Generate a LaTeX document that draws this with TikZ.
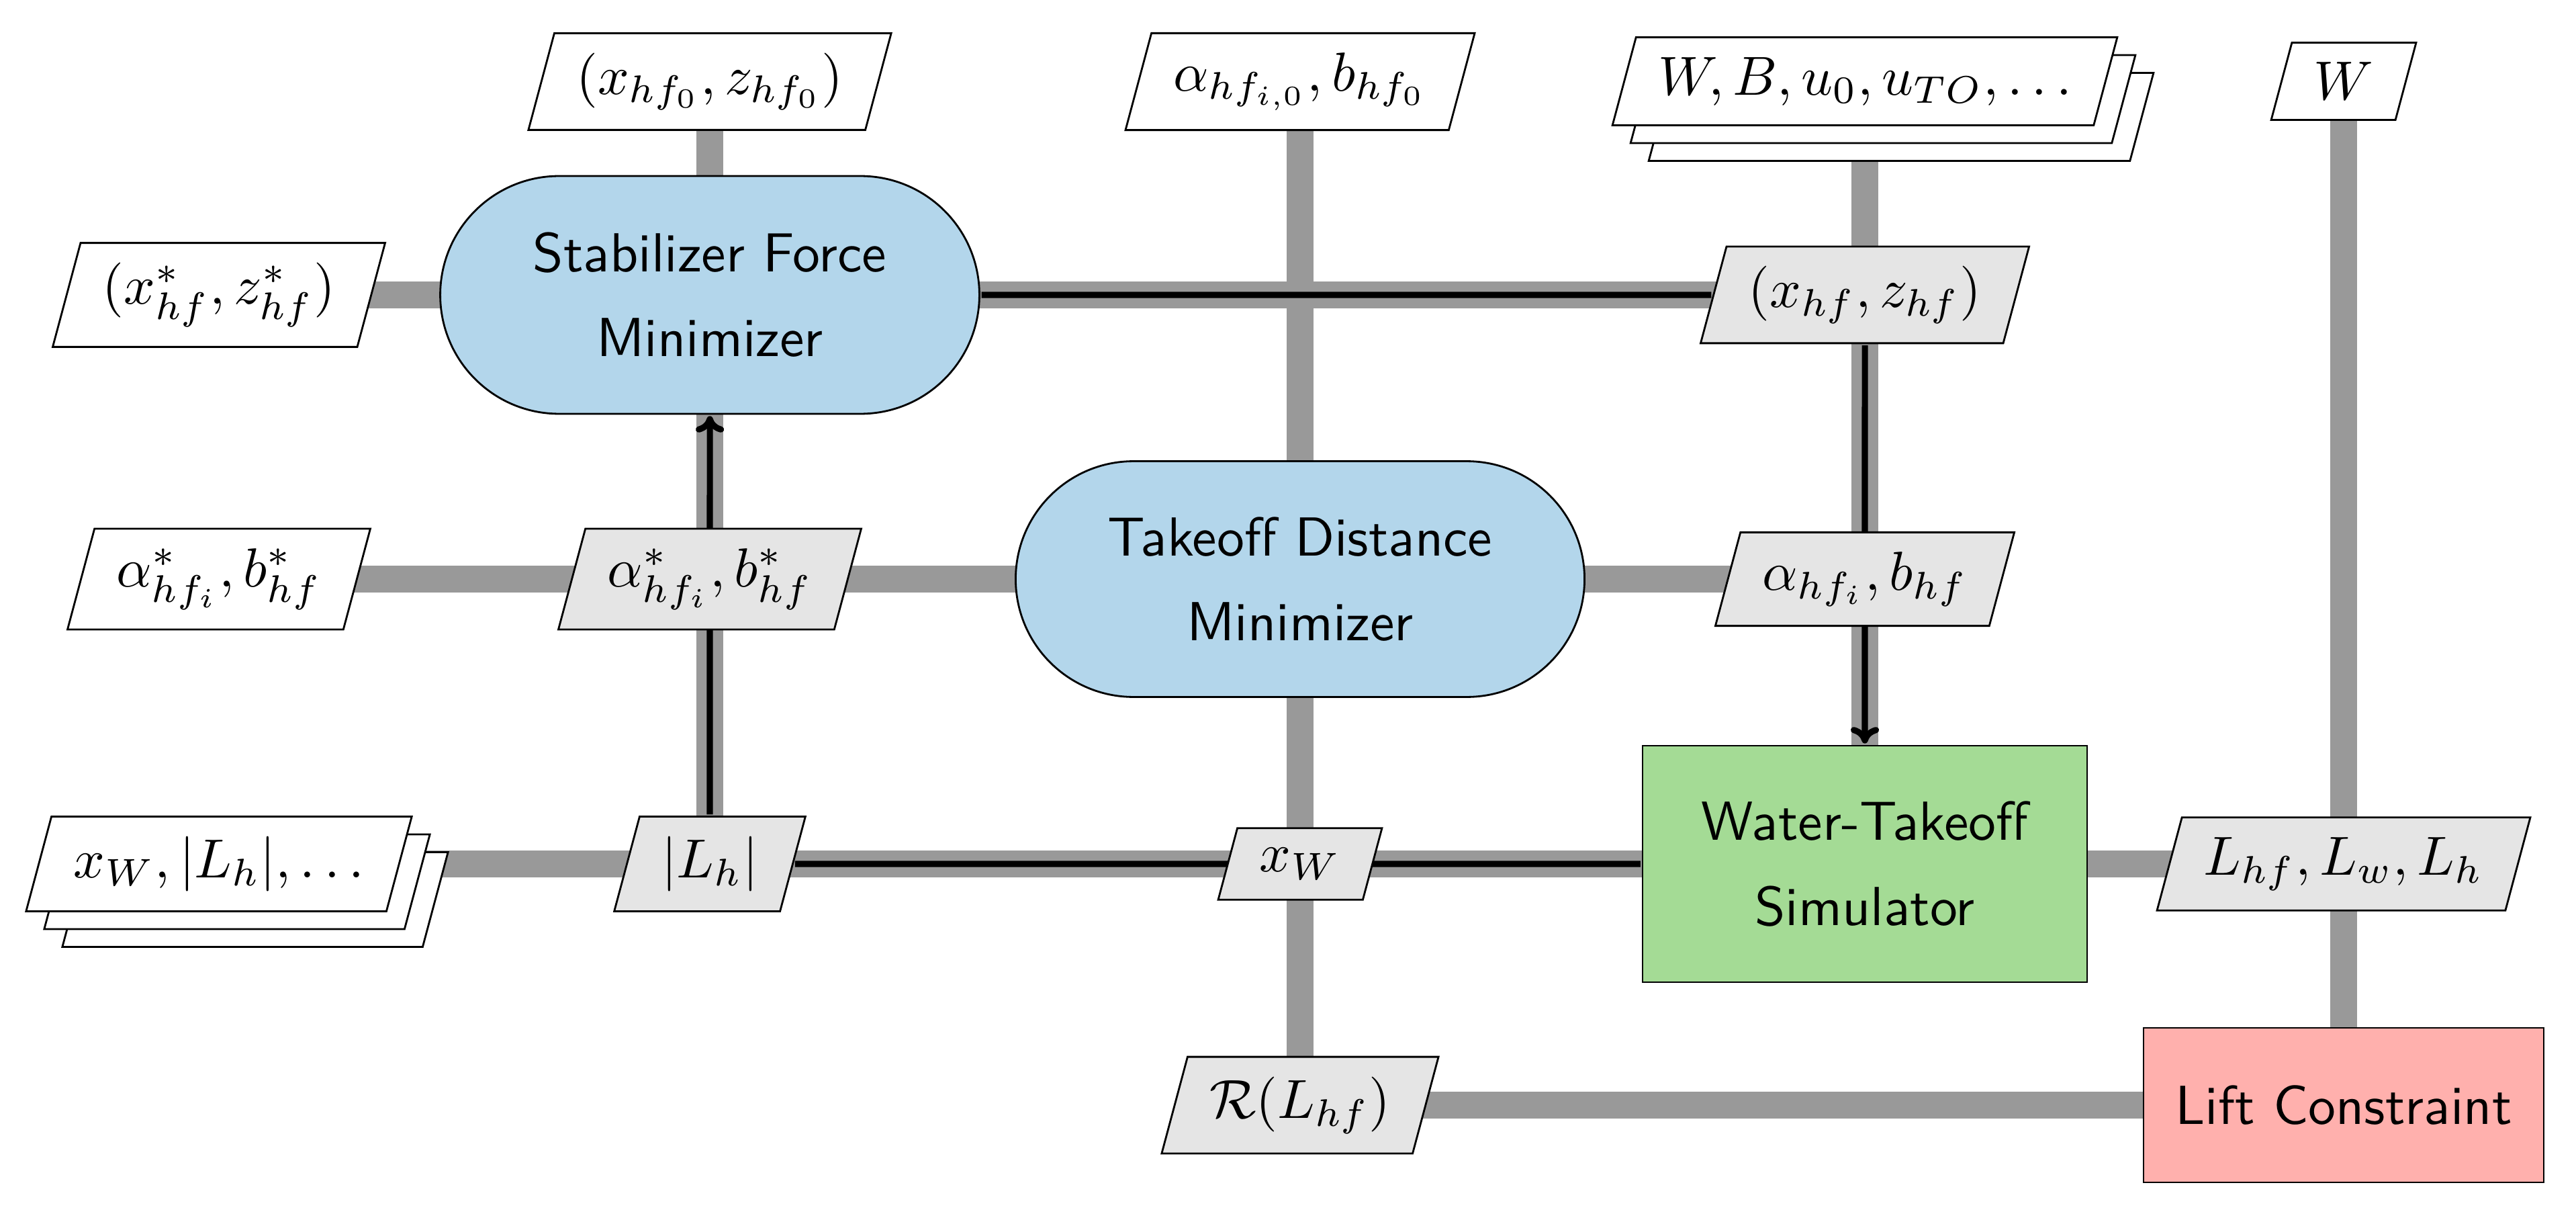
\RequirePackage{fix-cm}
\documentclass[tikz,border=0pt]{standalone}
\usetikzlibrary{shapes.geometric,shapes.misc,shadows,arrows.meta}
\definecolor{optblue}{RGB}{179,214,235}
\definecolor{anagreen}{RGB}{164,219,149}
\definecolor{funcred}{RGB}{255,176,173}
\definecolor{datagray}{RGB}{229,229,229}
\definecolor{linegray}{RGB}{153,153,153}
\pgfdeclarelayer{edges}
\pgfsetlayers{edges,main}
\begin{document}
\begin{tikzpicture}[
  font=\fontsize{10pt}{15.4pt}\selectfont,
  base/.style={draw=black,line width=0.8pt,scale=2.33},
  databox/.style={base,trapezium,trapezium left angle=75,trapezium right angle=105,inner xsep=4pt,inner ysep=3.6pt,fill=datagray},
  inbox/.style={databox,fill=white},
  stackbox/.style={inbox,double copy shadow={shadow xshift=2.7mm,shadow yshift=-2.65mm}},
  optbox/.style={base,rounded rectangle,fill=optblue,align=center,font=\fontsize{10pt}{15.4pt}\selectfont\sffamily},
  anabox/.style={base,rectangle,fill=anagreen,align=center,font=\fontsize{10pt}{15.4pt}\selectfont\sffamily},
  funcbox/.style={base,rectangle,fill=funcred,align=center,font=\fontsize{10pt}{15.4pt}\selectfont\sffamily},
  dline/.style={draw=linegray,line width=11.2pt},
  pline/.style={draw=black,line width=2.6pt},
  parrow/.style={pline,-{Computer Modern Rightarrow[length=7pt,width=12pt]}}
]
\useasboundingbox (0,0) rectangle (38.36,-18.16);

% row 0
\node[inbox] (xhf0) at (10.57,-1.215) {$(x_{hf_0}, z_{hf_0})$};
\node[inbox] (ai0) at (19.36,-1.215) {$\alpha_{hf_{i,0}}, b_{hf_0}$};
\node[stackbox] (wb) at (27.77,-1.21) {$W, B, u_0, u_{TO}, \ldots$};
\node[inbox] (wtop) at (34.90,-1.21) {$W$};

% row 1
\node[inbox] (xstar) at (3.26,-4.39) {$(x^*_{hf}, z^*_{hf})$};
\node[optbox,minimum width=3.68cm,minimum height=1.519cm] (sfm) at (10.57,-4.39) {Stabilizer Force\\Minimizer};
\node[databox] (xz) at (27.77,-4.39) {$(x_{hf}, z_{hf})$};

% row 2
\node[inbox] (astarL) at (3.26,-8.62) {$\alpha^*_{hf_i}, b^*_{hf}$};
\node[databox] (astarM) at (10.57,-8.62) {$\alpha^*_{hf_i}, b^*_{hf}$};
\node[optbox,minimum width=3.87cm,minimum height=1.506cm] (tdm) at (19.36,-8.62) {Takeoff Distance\\Minimizer};
\node[databox] (ahf) at (27.77,-8.62) {$\alpha_{hf_i}, b_{hf}$};

% row 3
\node[stackbox] (xwstack) at (3.26,-12.86) {$x_W, |L_h|, \ldots$};
\node[databox] (lh) at (10.57,-12.86) {$|L_h|$};
\node[databox] (xw) at (19.36,-12.86) {$x_W$};
\node[anabox,minimum width=2.841cm,minimum height=1.511cm] (wts) at (27.77,-12.86) {Water-Takeoff\\Simulator};
\node[databox] (lhf) at (34.90,-12.86) {$L_{hf}, L_w, L_h$};

% row 4
\node[databox] (rl) at (19.36,-16.45) {$\mathcal{R}(L_{hf})$};
\node[funcbox,minimum width=2.558cm,minimum height=0.987cm] (lc) at (34.90,-16.45) {Lift Constraint};

\begin{pgfonlayer}{edges}
  \fill[white] (0,0) rectangle (38.36,-18.16);
  % data lines (gray)
  \draw[dline] (xhf0.center) -- (sfm.center);
  \draw[dline] (sfm.center) -- (lh.center);
  \draw[dline] (ai0.center) -- (tdm.center);
  \draw[dline] (tdm.center) -- (rl.center);
  \draw[dline] (wb.center) -- (wts.center);
  \draw[dline] (wtop.center) -- (lc.center);
  \draw[dline] (xstar.center) -- (sfm.center);
  \draw[dline] (sfm.center) -- (xz.center);
  \draw[dline] (astarL.center) -- (tdm.center);
  \draw[dline] (tdm.center) -- (ahf.center);
  \draw[dline] (xwstack.center) -- (wts.center);
  \draw[dline] (wts.center) -- (lhf.center);
  \draw[dline] (rl.center) -- (lc.center);
  % process lines (black)
  \draw[pline] (sfm) -- (xz);
  \draw[parrow] (xz) -- (wts);
  \draw[pline] (wts) -- (lh);
  \draw[parrow] (lh) -- (sfm);
\end{pgfonlayer}
\end{tikzpicture}
\end{document}
